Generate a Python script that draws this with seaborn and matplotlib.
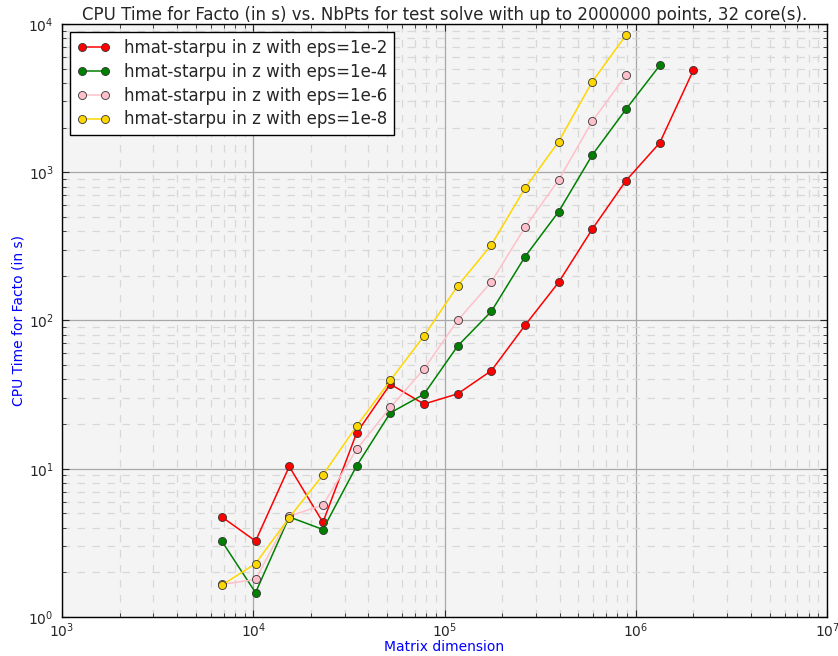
import matplotlib
matplotlib.use("Agg")
import matplotlib.pyplot as plt
import seaborn as sns
import pandas as pd

nbpts = [6851, 10276, 15414, 23122, 34683, 52024, 78036, 117055, 175583,
         263374, 395061, 592592, 888888, 1333333, 2000000]

eps_1e2 = [4.73, 3.25, 10.35, 4.35, 17.4, 37.2, 27.3, 32.0, 45.8, 92.7, 181, 414, 878, 1577, 4884]
eps_1e4 = [3.24, 1.46, 4.73, 3.89, 10.44, 23.8, 31.8, 67.2, 115, 269, 542, 1309, 2663, 5246]
eps_1e6 = [1.66, 1.79, 4.78, 5.69, 13.5, 25.9, 47.0, 100, 182, 425, 887, 2210, 4519]
eps_1e8 = [1.64, 2.29, 4.68, 9.08, 19.4, 39.4, 78.5, 171, 323, 780, 1609, 4090, 8414]

labels = ["hmat-starpu in z with eps=1e-2", "hmat-starpu in z with eps=1e-4",
          "hmat-starpu in z with eps=1e-6", "hmat-starpu in z with eps=1e-8"]
colors = ["#ff0000", "#008000", "#ffc0cb", "#ffd700"]
series = [eps_1e2, eps_1e4, eps_1e6, eps_1e8]

sns.set_style("ticks")
plt.rcParams["font.family"] = ["DejaVu Sans"]

fig = plt.figure(figsize=(8.38, 6.56), dpi=100)
ax = fig.add_axes([0.074, 0.0595, 0.913, 0.904])
ax.set_facecolor("#f4f4f4")

for lab, col, vals in zip(labels, colors, series):
    df = pd.DataFrame({"x": nbpts[:len(vals)], "y": vals})
    sns.lineplot(data=df, x="x", y="y", ax=ax, color=col, marker="o",
                 markersize=5.8, markeredgecolor="#333333", markeredgewidth=0.6,
                 linewidth=1.1, label=lab, legend=False)

ax.set_xscale("log")
ax.set_yscale("log")
ax.set_xlim(1e3, 1e7)
ax.set_ylim(1e0, 1e4)

ax.grid(which="major", color="#a8a8a8", linestyle="-", linewidth=0.9)
ax.grid(which="minor", color="#d8d8d8", linestyle=(0, (6, 6)), linewidth=0.9)
ax.set_axisbelow(True)

ax.tick_params(which="both", direction="in", top=True, right=True, labelsize=10)
ax.tick_params(axis="x", which="major", pad=3)
ax.tick_params(axis="y", which="major", pad=6)
ax.tick_params(which="major", length=5)
ax.tick_params(which="minor", length=3)
for s in ax.spines.values():
    s.set_color("black")
    s.set_linewidth(1.0)

ax.set_title("CPU Time for Facto (in s) vs. NbPts for test solve with up to 2000000 points, 32 core(s).",
             fontsize=12, pad=3)
ax.set_xlabel("Matrix dimension", color="blue", fontsize=10, labelpad=0.5)
ax.set_ylabel("CPU Time for Facto (in s)", color="blue", fontsize=10, labelpad=2)

h, l = ax.get_legend_handles_labels()
leg = ax.legend(h, l, loc="upper left", numpoints=2, fontsize=12, fancybox=False,
                framealpha=1, edgecolor="black", borderpad=0.4, labelspacing=0.35,
                handlelength=2.0, handletextpad=0.8)
leg.get_frame().set_linewidth(1.0)

fig.savefig("out.png", dpi=100)
